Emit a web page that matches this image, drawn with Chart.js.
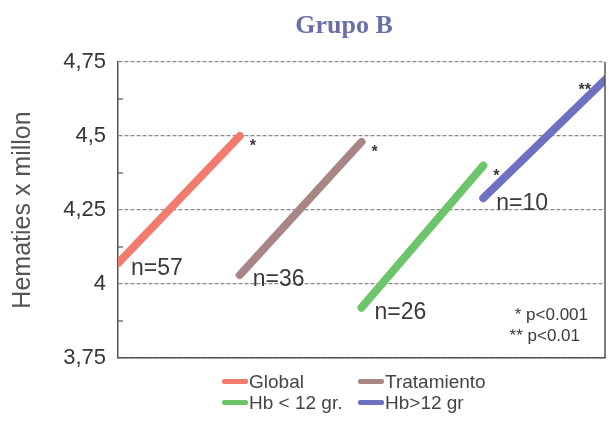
<!DOCTYPE html>
<html>
<head>
<meta charset="utf-8">
<script src="https://cdn.jsdelivr.net/npm/chart.js@4"></script>
<style>
  html, body { margin: 0; padding: 0; background: #fff; }
  .box { position: relative; width: 609px; height: 423px; }
  #custom { position: absolute; left: 222px; top: 371px; font-family: "Liberation Sans", Arial, sans-serif; font-size: 19px; color: #444; }
  #custom ul { list-style: none; margin: 0; padding: 0; display: grid; grid-template-columns: 136px 136px; }
  #custom li { display: flex; align-items: center; height: 21px; white-space: nowrap; }
  #custom span { display: inline-block; width: 26px; height: 5px; margin-right: 1px; border-radius: 2px; }
</style>
</head>
<body>
<div class="box">
  <canvas id="grupo" width="609" height="423"></canvas>
</div>
<script>
// data
const groups = ["Global", "Tratamiento", "Hb < 12 gr.", "Hb>12 gr"];
const antes = [4.07, 4.03, 3.92, 4.29];
const despues = [4.50, 4.48, 4.40, 4.69];
const nLabels = ["n=57", "n=36", "n=26", "n=10"];
const signif = ["*", "*", "*", "**"];
const pNotes = ["* p<0.001", "** p<0.01"];
const yTicks = [3.75, 4, 4.25, 4.5, 4.75];
const colors = ["#f27b6e", "#a98686", "#6cc46b", "#6e71c2"];

const sans = "'Liberation Sans', Arial, sans-serif";

// each group gets its own slot on the x scale: [i, i+1]
const datasets = groups.map((g, i) => ({
  label: g,
  data: [{ x: i, y: antes[i] }, { x: i + 1, y: despues[i] }],
  borderColor: colors[i],
  backgroundColor: colors[i],
  borderWidth: 8,
  borderCapStyle: "round",
  pointRadius: 0,
  fill: false,
  tension: 0
}));

// labels, minor ticks, frame
const extras = {
  id: "extras",
  afterDatasetsDraw(chart) {
    const { ctx, chartArea: a, scales } = chart;
    const x = scales.x, y = scales.y;
    ctx.save();

    // title
    ctx.fillStyle = "#6b6fa9";
    ctx.font = "bold 26px 'Liberation Serif', 'DejaVu Serif', serif";
    ctx.textAlign = "center";
    ctx.textBaseline = "middle";
    ctx.fillText("Grupo B", 344, 26);

    // right border
    ctx.strokeStyle = "#555";
    ctx.lineWidth = 1.5;
    ctx.beginPath();
    ctx.moveTo(a.right, a.top);
    ctx.lineTo(a.right, a.bottom);
    ctx.stroke();

    // minor ticks inside the left axis
    ctx.lineWidth = 1.2;
    for (let i = 0; i < yTicks.length - 1; i++) {
      const py = y.getPixelForValue((yTicks[i] + yTicks[i + 1]) / 2);
      ctx.beginPath();
      ctx.moveTo(a.left, py);
      ctx.lineTo(a.left + 5, py);
      ctx.stroke();
    }

    // n= labels
    ctx.fillStyle = "#3a3a3a";
    ctx.font = "23px " + sans;
    ctx.textAlign = "left";
    groups.forEach((g, i) => {
      ctx.fillText(nLabels[i], x.getPixelForValue(i) + 13, y.getPixelForValue(antes[i]) + 5);
    });

    // significance marks
    ctx.font = "bold 16px " + sans;
    groups.forEach((g, i) => {
      const ex = x.getPixelForValue(i + 1);
      const ey = y.getPixelForValue(despues[i]) + 11;
      const w = ctx.measureText(signif[i]).width;
      if (ex + 10 + w > a.right) {
        ctx.textAlign = "right";
        ctx.fillText(signif[i], ex - 14, ey);
      } else {
        ctx.textAlign = "left";
        ctx.fillText(signif[i], ex + 10, ey);
      }
    });

    // p values
    ctx.font = "17px " + sans;
    ctx.textAlign = "right";
    ctx.fillText(pNotes[0], a.right - 17, a.bottom - 43);
    ctx.fillText(pNotes[1], a.right - 25, a.bottom - 22);

    ctx.restore();
  }
};

const grupo = document.getElementById("grupo");

let grupoChart = new Chart(grupo, {
  type: "line",
  data: { datasets: datasets },
  options: {
    responsive: false,
    animation: false,
    layout: {
      padding: { top: 62, right: 4, bottom: 65, left: 0 }
    },
    plugins: {
      legend: { display: false },
      title: { display: false },
      tooltip: { enabled: false }
    },
    scales: {
      x: {
        type: "linear",
        min: 0,
        max: groups.length,
        ticks: { display: false },
        grid: { display: false },
        border: { display: true, color: "#555", width: 1.5 },
        afterFit: (scale) => { scale.height = 0; }
      },
      y: {
        min: yTicks[0],
        max: yTicks[yTicks.length - 1],
        afterBuildTicks: (scale) => {
          scale.ticks = yTicks.map((v) => ({ value: v }));
        },
        afterFit: (scale) => { scale.width = 118; },
        ticks: {
          callback: (value) => String(value).replace(".", ","),
          color: "#353535",
          padding: 12,
          font: { size: 22, family: sans }
        },
        grid: {
          color: "#8a8a8a",
          lineWidth: 1.3,
          drawTicks: false
        },
        border: { display: true, color: "#555", width: 1.5, dash: [4, 2] },
        title: {
          display: true,
          text: "Hematies x millon",
          color: "#555",
          padding: { top: 8, bottom: 0 },
          font: { size: 25, family: sans }
        }
      }
    }
  },
  plugins: [extras]
});

// legend built from the chart's datasets
function generateLegend() {
  const chartBox = document.querySelector(".box");
  const div = document.createElement("div");
  div.setAttribute("id", "custom");
  const ul = document.createElement("ul");

  grupoChart.data.datasets.forEach((dataset) => {
    const li = document.createElement("li");
    const span = document.createElement("span");
    span.style.backgroundColor = dataset.borderColor;
    const p = document.createElement("p");
    p.style.margin = "0";
    p.textContent = dataset.label;
    li.appendChild(span);
    li.appendChild(p);
    ul.appendChild(li);
  });

  div.appendChild(ul);
  chartBox.appendChild(div);
}

generateLegend();
</script>
</body>
</html>
